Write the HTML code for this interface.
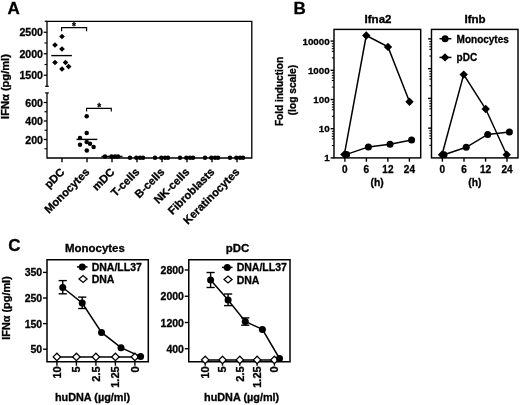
<!DOCTYPE html>
<html><head><meta charset="utf-8"><title>Figure</title>
<style>
html,body{margin:0;padding:0;background:#fff;}
svg{display:block;filter:grayscale(1);}
svg text{font-family:"Liberation Sans",sans-serif;font-weight:bold;fill:#000;stroke:#000;stroke-width:0.3px;}
svg line,svg polyline,svg rect{stroke:#000;}
svg circle,svg polygon{fill:#000;stroke:none;}
svg polygon.o{fill:#fff;stroke:#000;stroke-width:1.3;}
</style></head>
<body>
<svg width="520" height="405" viewBox="0 0 520 405">
<rect x="0" y="0" width="520" height="405" style="fill:#fff;stroke:none"/>
<g id="panelA">
<text x="7.60" y="13.70" font-size="17" text-anchor="start" >A</text>
<polyline points="47.00,86.30 47.00,21.30 251.80,21.30 251.80,158.00 47.00,158.00 47.00,92.90" fill="none" stroke-width="1.32" />
<line x1="44.70" y1="21.30" x2="47.00" y2="21.30" stroke-width="1.21" />
<line x1="45.20" y1="86.30" x2="48.80" y2="86.30" stroke-width="1.26" />
<line x1="45.20" y1="92.90" x2="48.80" y2="92.90" stroke-width="1.26" />
<line x1="43.70" y1="32.25" x2="47.00" y2="32.25" stroke-width="1.26" />
<text x="43.00" y="36.35" font-size="10.6" text-anchor="end" >2500</text>
<line x1="43.70" y1="53.75" x2="47.00" y2="53.75" stroke-width="1.26" />
<text x="43.00" y="57.85" font-size="10.6" text-anchor="end" >2000</text>
<line x1="43.70" y1="75.25" x2="47.00" y2="75.25" stroke-width="1.26" />
<text x="43.00" y="79.35" font-size="10.6" text-anchor="end" >1500</text>
<line x1="44.50" y1="43.00" x2="47.00" y2="43.00" stroke-width="1.15" />
<line x1="44.50" y1="64.50" x2="47.00" y2="64.50" stroke-width="1.15" />
<line x1="43.70" y1="102.50" x2="47.00" y2="102.50" stroke-width="1.26" />
<text x="43.00" y="106.60" font-size="10.6" text-anchor="end" >600</text>
<line x1="43.70" y1="121.00" x2="47.00" y2="121.00" stroke-width="1.26" />
<text x="43.00" y="125.10" font-size="10.6" text-anchor="end" >400</text>
<line x1="43.70" y1="139.50" x2="47.00" y2="139.50" stroke-width="1.26" />
<text x="43.00" y="143.60" font-size="10.6" text-anchor="end" >200</text>
<line x1="44.50" y1="111.75" x2="47.00" y2="111.75" stroke-width="1.15" />
<line x1="44.50" y1="130.25" x2="47.00" y2="130.25" stroke-width="1.15" />
<line x1="44.50" y1="148.75" x2="47.00" y2="148.75" stroke-width="1.15" />
<text transform="translate(8.70 86.50) rotate(-90)" font-size="11.1" text-anchor="middle" >IFN&#945; (pg/ml)</text>
<line x1="62.00" y1="158.00" x2="62.00" y2="162.20" stroke-width="1.38" />
<text transform="translate(65.20 172.70) rotate(-45)" font-size="11.2" text-anchor="end" >pDC</text>
<line x1="87.00" y1="158.00" x2="87.00" y2="162.20" stroke-width="1.38" />
<text transform="translate(90.20 172.70) rotate(-45)" font-size="11.2" text-anchor="end" >Monocytes</text>
<line x1="112.00" y1="158.00" x2="112.00" y2="162.20" stroke-width="1.38" />
<text transform="translate(115.20 172.70) rotate(-45)" font-size="11.2" text-anchor="end" >mDC</text>
<line x1="137.00" y1="158.00" x2="137.00" y2="162.20" stroke-width="1.38" />
<text transform="translate(140.20 172.70) rotate(-45)" font-size="11.2" text-anchor="end" >T-cells</text>
<line x1="162.00" y1="158.00" x2="162.00" y2="162.20" stroke-width="1.38" />
<text transform="translate(165.20 172.70) rotate(-45)" font-size="11.2" text-anchor="end" >B-cells</text>
<line x1="187.00" y1="158.00" x2="187.00" y2="162.20" stroke-width="1.38" />
<text transform="translate(190.20 172.70) rotate(-45)" font-size="11.2" text-anchor="end" >NK-cells</text>
<line x1="212.00" y1="158.00" x2="212.00" y2="162.20" stroke-width="1.38" />
<text transform="translate(215.20 172.70) rotate(-45)" font-size="11.2" text-anchor="end" >Fibroblasts</text>
<line x1="237.00" y1="158.00" x2="237.00" y2="162.20" stroke-width="1.38" />
<text transform="translate(240.20 172.70) rotate(-45)" font-size="11.2" text-anchor="end" >Keratinocytes</text>
<polygon points="59.15,36.50 62.00,33.65 64.85,36.50 62.00,39.35" />
<polygon points="52.15,45.00 55.00,42.15 57.85,45.00 55.00,47.85" />
<polygon points="59.15,49.00 62.00,46.15 64.85,49.00 62.00,51.85" />
<polygon points="52.15,62.50 55.00,59.65 57.85,62.50 55.00,65.35" />
<polygon points="62.65,62.50 65.50,59.65 68.35,62.50 65.50,65.35" />
<polygon points="59.15,69.00 62.00,66.15 64.85,69.00 62.00,71.85" />
<polygon points="65.75,66.60 68.60,63.75 71.45,66.60 68.60,69.45" />
<line x1="51.30" y1="55.60" x2="71.90" y2="55.60" stroke-width="1.38" />
<polyline points="61.60,31.30 61.60,27.60 86.60,27.60 86.60,31.30" fill="none" stroke-width="1.15" />
<text x="74.00" y="29.80" font-size="10" text-anchor="middle" >*</text>
<polyline points="86.60,111.60 86.60,108.40 111.30,108.40 111.30,111.60" fill="none" stroke-width="1.15" />
<text x="99.20" y="110.70" font-size="10" text-anchor="middle" >*</text>
<circle cx="86.70" cy="116.30" r="2.25" />
<circle cx="86.70" cy="132.90" r="2.25" />
<circle cx="80.00" cy="137.90" r="2.25" />
<circle cx="86.70" cy="141.90" r="2.25" />
<circle cx="80.00" cy="144.80" r="2.25" />
<circle cx="90.00" cy="143.80" r="2.25" />
<circle cx="93.60" cy="146.90" r="2.25" />
<circle cx="86.80" cy="150.40" r="2.25" />
<line x1="76.50" y1="139.40" x2="97.30" y2="139.40" stroke-width="1.38" />
<circle cx="105.00" cy="156.40" r="2.25" />
<circle cx="111.50" cy="156.40" r="2.25" />
<circle cx="115.00" cy="156.40" r="2.25" />
<circle cx="118.00" cy="156.40" r="2.25" />
<line x1="101.50" y1="156.40" x2="122.50" y2="156.40" stroke-width="1.38" />
<circle cx="130.00" cy="157.70" r="2.25" />
<circle cx="136.30" cy="157.70" r="2.25" />
<circle cx="140.00" cy="157.70" r="2.25" />
<circle cx="143.00" cy="157.70" r="2.25" />
<circle cx="155.00" cy="157.70" r="2.25" />
<circle cx="161.30" cy="157.70" r="2.25" />
<circle cx="165.00" cy="157.70" r="2.25" />
<circle cx="168.00" cy="157.70" r="2.25" />
<circle cx="180.00" cy="157.70" r="2.25" />
<circle cx="186.30" cy="157.70" r="2.25" />
<circle cx="190.00" cy="157.70" r="2.25" />
<circle cx="193.00" cy="157.70" r="2.25" />
<circle cx="205.00" cy="157.70" r="2.25" />
<circle cx="211.30" cy="157.70" r="2.25" />
<circle cx="215.00" cy="157.70" r="2.25" />
<circle cx="218.00" cy="157.70" r="2.25" />
<circle cx="230.00" cy="157.70" r="2.25" />
<circle cx="236.30" cy="157.70" r="2.25" />
<circle cx="240.00" cy="157.70" r="2.25" />
<circle cx="243.00" cy="157.70" r="2.25" />
</g>
<g id="panelB">
<text x="293.60" y="13.50" font-size="17" text-anchor="start" >B</text>
<rect x="334.0" y="29.4" width="86.70" height="128.50" fill="none" stroke-width="1.45"/>
<line x1="330.60" y1="157.90" x2="334.00" y2="157.90" stroke-width="1.38" />
<text x="329.70" y="161.40" font-size="9.8" text-anchor="end" >1</text>
<line x1="331.80" y1="131.33" x2="334.00" y2="131.33" stroke-width="1.03" />
<line x1="331.80" y1="133.81" x2="334.00" y2="133.81" stroke-width="1.03" />
<line x1="331.80" y1="136.29" x2="334.00" y2="136.29" stroke-width="1.03" />
<line x1="331.80" y1="138.92" x2="334.00" y2="138.92" stroke-width="1.03" />
<line x1="331.80" y1="145.49" x2="334.00" y2="145.49" stroke-width="1.03" />
<line x1="330.60" y1="128.70" x2="334.00" y2="128.70" stroke-width="1.38" />
<text x="329.70" y="132.20" font-size="9.8" text-anchor="end" >10</text>
<line x1="331.80" y1="102.13" x2="334.00" y2="102.13" stroke-width="1.03" />
<line x1="331.80" y1="104.61" x2="334.00" y2="104.61" stroke-width="1.03" />
<line x1="331.80" y1="107.09" x2="334.00" y2="107.09" stroke-width="1.03" />
<line x1="331.80" y1="109.72" x2="334.00" y2="109.72" stroke-width="1.03" />
<line x1="331.80" y1="116.29" x2="334.00" y2="116.29" stroke-width="1.03" />
<line x1="330.60" y1="99.50" x2="334.00" y2="99.50" stroke-width="1.38" />
<text x="329.70" y="103.00" font-size="9.8" text-anchor="end" >100</text>
<line x1="331.80" y1="72.93" x2="334.00" y2="72.93" stroke-width="1.03" />
<line x1="331.80" y1="75.41" x2="334.00" y2="75.41" stroke-width="1.03" />
<line x1="331.80" y1="77.89" x2="334.00" y2="77.89" stroke-width="1.03" />
<line x1="331.80" y1="80.52" x2="334.00" y2="80.52" stroke-width="1.03" />
<line x1="331.80" y1="87.09" x2="334.00" y2="87.09" stroke-width="1.03" />
<line x1="330.60" y1="70.30" x2="334.00" y2="70.30" stroke-width="1.38" />
<text x="329.70" y="73.80" font-size="9.8" text-anchor="end" >1000</text>
<line x1="331.80" y1="43.73" x2="334.00" y2="43.73" stroke-width="1.03" />
<line x1="331.80" y1="46.21" x2="334.00" y2="46.21" stroke-width="1.03" />
<line x1="331.80" y1="48.69" x2="334.00" y2="48.69" stroke-width="1.03" />
<line x1="331.80" y1="51.32" x2="334.00" y2="51.32" stroke-width="1.03" />
<line x1="331.80" y1="57.89" x2="334.00" y2="57.89" stroke-width="1.03" />
<line x1="330.60" y1="41.10" x2="334.00" y2="41.10" stroke-width="1.38" />
<text x="329.70" y="44.60" font-size="9.8" text-anchor="end" >10000</text>
<line x1="344.90" y1="157.90" x2="344.90" y2="161.70" stroke-width="1.38" />
<text x="344.90" y="172.70" font-size="10" text-anchor="middle" >0</text>
<line x1="366.40" y1="157.90" x2="366.40" y2="161.70" stroke-width="1.38" />
<text x="366.40" y="172.70" font-size="10" text-anchor="middle" >6</text>
<line x1="387.90" y1="157.90" x2="387.90" y2="161.70" stroke-width="1.38" />
<text x="387.90" y="172.70" font-size="10" text-anchor="middle" >12</text>
<line x1="409.40" y1="157.90" x2="409.40" y2="161.70" stroke-width="1.38" />
<text x="409.40" y="172.70" font-size="10" text-anchor="middle" >24</text>
<text x="377.20" y="186.20" font-size="10.3" text-anchor="middle" >(h)</text>
<text transform="translate(378.00 22.90) scale(1.07 1)" font-size="10.8" text-anchor="middle" >Ifna2</text>
<polyline points="346.60,154.40 368.40,146.90 390.00,144.20 411.60,140.00" fill="none" stroke-width="1.49" />
<polyline points="344.40,154.40 366.25,35.50 388.00,46.90 409.50,101.80" fill="none" stroke-width="1.49" />
<circle cx="346.60" cy="154.40" r="3.5" />
<circle cx="368.40" cy="146.90" r="3.5" />
<circle cx="390.00" cy="144.20" r="3.5" />
<circle cx="411.60" cy="140.00" r="3.5" />
<polygon points="340.20,154.40 344.40,150.20 348.60,154.40 344.40,158.60" />
<polygon points="362.05,35.50 366.25,31.30 370.45,35.50 366.25,39.70" />
<polygon points="383.80,46.90 388.00,42.70 392.20,46.90 388.00,51.10" />
<polygon points="405.30,101.80 409.50,97.60 413.70,101.80 409.50,106.00" />
<text transform="translate(283.10 91.50) rotate(-90)" font-size="10.05" text-anchor="middle" >Fold induction</text>
<text transform="translate(296.30 90.10) rotate(-90)" font-size="10.2" text-anchor="middle" >(log scale)</text>
<rect x="431.5" y="29.4" width="86.50" height="128.50" fill="none" stroke-width="1.45"/>
<line x1="429.30" y1="130.83" x2="431.50" y2="130.83" stroke-width="1.03" />
<line x1="429.30" y1="133.36" x2="431.50" y2="133.36" stroke-width="1.03" />
<line x1="429.30" y1="135.89" x2="431.50" y2="135.89" stroke-width="1.03" />
<line x1="429.30" y1="138.56" x2="431.50" y2="138.56" stroke-width="1.03" />
<line x1="429.30" y1="145.26" x2="431.50" y2="145.26" stroke-width="1.03" />
<line x1="428.10" y1="128.15" x2="431.50" y2="128.15" stroke-width="1.38" />
<line x1="429.30" y1="101.08" x2="431.50" y2="101.08" stroke-width="1.03" />
<line x1="429.30" y1="103.61" x2="431.50" y2="103.61" stroke-width="1.03" />
<line x1="429.30" y1="106.14" x2="431.50" y2="106.14" stroke-width="1.03" />
<line x1="429.30" y1="108.81" x2="431.50" y2="108.81" stroke-width="1.03" />
<line x1="429.30" y1="115.51" x2="431.50" y2="115.51" stroke-width="1.03" />
<line x1="428.10" y1="98.40" x2="431.50" y2="98.40" stroke-width="1.38" />
<line x1="429.30" y1="71.33" x2="431.50" y2="71.33" stroke-width="1.03" />
<line x1="429.30" y1="73.86" x2="431.50" y2="73.86" stroke-width="1.03" />
<line x1="429.30" y1="76.39" x2="431.50" y2="76.39" stroke-width="1.03" />
<line x1="429.30" y1="79.06" x2="431.50" y2="79.06" stroke-width="1.03" />
<line x1="429.30" y1="85.76" x2="431.50" y2="85.76" stroke-width="1.03" />
<line x1="428.10" y1="68.65" x2="431.50" y2="68.65" stroke-width="1.38" />
<line x1="429.30" y1="41.58" x2="431.50" y2="41.58" stroke-width="1.03" />
<line x1="429.30" y1="44.11" x2="431.50" y2="44.11" stroke-width="1.03" />
<line x1="429.30" y1="46.64" x2="431.50" y2="46.64" stroke-width="1.03" />
<line x1="429.30" y1="49.31" x2="431.50" y2="49.31" stroke-width="1.03" />
<line x1="429.30" y1="56.01" x2="431.50" y2="56.01" stroke-width="1.03" />
<line x1="428.10" y1="38.90" x2="431.50" y2="38.90" stroke-width="1.38" />
<line x1="442.40" y1="157.90" x2="442.40" y2="161.70" stroke-width="1.38" />
<text x="442.40" y="172.70" font-size="10" text-anchor="middle" >0</text>
<line x1="464.00" y1="157.90" x2="464.00" y2="161.70" stroke-width="1.38" />
<text x="464.00" y="172.70" font-size="10" text-anchor="middle" >6</text>
<line x1="485.60" y1="157.90" x2="485.60" y2="161.70" stroke-width="1.38" />
<text x="485.60" y="172.70" font-size="10" text-anchor="middle" >12</text>
<line x1="507.00" y1="157.90" x2="507.00" y2="161.70" stroke-width="1.38" />
<text x="507.00" y="172.70" font-size="10" text-anchor="middle" >24</text>
<text x="474.80" y="186.20" font-size="10.3" text-anchor="middle" >(h)</text>
<text transform="translate(475.00 22.90) scale(1.07 1)" font-size="10.8" text-anchor="middle" >Ifnb</text>
<polyline points="444.00,154.70 466.20,147.30 487.70,134.40 509.40,132.00" fill="none" stroke-width="1.49" />
<polyline points="442.00,154.70 463.70,74.60 485.70,109.00 506.70,154.70" fill="none" stroke-width="1.49" />
<circle cx="444.00" cy="154.70" r="3.5" />
<circle cx="466.20" cy="147.30" r="3.5" />
<circle cx="487.70" cy="134.40" r="3.5" />
<circle cx="509.40" cy="132.00" r="3.5" />
<polygon points="437.80,154.70 442.00,150.50 446.20,154.70 442.00,158.90" />
<polygon points="459.50,74.60 463.70,70.40 467.90,74.60 463.70,78.80" />
<polygon points="481.50,109.00 485.70,104.80 489.90,109.00 485.70,113.20" />
<polygon points="502.50,154.70 506.70,150.50 510.90,154.70 506.70,158.90" />
<line x1="439.50" y1="38.70" x2="451.40" y2="38.70" stroke-width="1.49" />
<circle cx="445.10" cy="38.70" r="3.5" />
<text x="456.60" y="42.60" font-size="10" text-anchor="start" >Monocytes</text>
<line x1="439.50" y1="57.40" x2="451.40" y2="57.40" stroke-width="1.49" />
<polygon points="440.80,57.40 445.00,53.20 449.20,57.40 445.00,61.60" />
<text x="456.60" y="61.20" font-size="10" text-anchor="start" >pDC</text>
</g>
<g id="panelC">
<text x="8.30" y="250.60" font-size="17" text-anchor="start" >C</text>
<rect x="47.0" y="259.75" width="101.30" height="102.00" fill="none" stroke-width="1.5"/>
<line x1="43.00" y1="272.40" x2="47.00" y2="272.40" stroke-width="1.38" />
<text x="42.20" y="276.40" font-size="10.5" text-anchor="end" >350</text>
<line x1="43.00" y1="298.00" x2="47.00" y2="298.00" stroke-width="1.38" />
<text x="42.20" y="302.00" font-size="10.5" text-anchor="end" >250</text>
<line x1="43.00" y1="323.60" x2="47.00" y2="323.60" stroke-width="1.38" />
<text x="42.20" y="327.60" font-size="10.5" text-anchor="end" >150</text>
<line x1="43.00" y1="349.20" x2="47.00" y2="349.20" stroke-width="1.38" />
<text x="42.20" y="353.20" font-size="10.5" text-anchor="end" >50</text>
<text transform="translate(94.90 251.80) scale(1.07 1)" font-size="10.7" text-anchor="middle" >Monocytes</text>
<line x1="56.90" y1="361.75" x2="56.90" y2="365.75" stroke-width="1.38" />
<text transform="translate(60.70 366.20) rotate(-90) scale(1.08 1)" font-size="10.3" text-anchor="end" >10</text>
<line x1="76.40" y1="361.75" x2="76.40" y2="365.75" stroke-width="1.38" />
<text transform="translate(80.20 366.20) rotate(-90) scale(1.08 1)" font-size="10.3" text-anchor="end" >5</text>
<line x1="95.90" y1="361.75" x2="95.90" y2="365.75" stroke-width="1.38" />
<text transform="translate(99.70 366.20) rotate(-90) scale(1.08 1)" font-size="10.3" text-anchor="end" >2.5</text>
<line x1="115.40" y1="361.75" x2="115.40" y2="365.75" stroke-width="1.38" />
<text transform="translate(119.20 366.20) rotate(-90) scale(1.08 1)" font-size="10.3" text-anchor="end" >1.25</text>
<line x1="134.90" y1="361.75" x2="134.90" y2="365.75" stroke-width="1.38" />
<text transform="translate(138.70 366.20) rotate(-90) scale(1.08 1)" font-size="10.3" text-anchor="end" >0</text>
<text transform="translate(92.50 400.60) scale(1.015 1)" font-size="10.7" text-anchor="middle" >huDNA (&#181;g/ml)</text>
<line x1="56.90" y1="356.90" x2="134.90" y2="356.90" stroke-width="1.49" />
<polyline points="62.75,287.50 82.20,303.00 101.50,332.40 121.00,347.70 140.60,356.60" fill="none" stroke-width="1.49" />
<line x1="62.75" y1="280.60" x2="62.75" y2="293.80" stroke-width="1.38" />
<line x1="58.65" y1="280.60" x2="66.85" y2="280.60" stroke-width="1.38" />
<line x1="58.65" y1="293.80" x2="66.85" y2="293.80" stroke-width="1.38" />
<line x1="82.20" y1="297.10" x2="82.20" y2="308.50" stroke-width="1.38" />
<line x1="78.10" y1="297.10" x2="86.30" y2="297.10" stroke-width="1.38" />
<line x1="78.10" y1="308.50" x2="86.30" y2="308.50" stroke-width="1.38" />
<polygon points="53.20,356.90 56.90,353.20 60.60,356.90 56.90,360.60" class="o"/>
<polygon points="72.70,356.90 76.40,353.20 80.10,356.90 76.40,360.60" class="o"/>
<polygon points="92.20,356.90 95.90,353.20 99.60,356.90 95.90,360.60" class="o"/>
<polygon points="111.70,356.90 115.40,353.20 119.10,356.90 115.40,360.60" class="o"/>
<polygon points="131.20,356.90 134.90,353.20 138.60,356.90 134.90,360.60" class="o"/>
<circle cx="62.75" cy="287.50" r="3.5" />
<circle cx="82.20" cy="303.00" r="3.5" />
<circle cx="101.50" cy="332.40" r="3.5" />
<circle cx="121.00" cy="347.70" r="3.5" />
<circle cx="140.60" cy="356.60" r="3.5" />
<line x1="76.95" y1="266.90" x2="87.55" y2="266.90" stroke-width="1.49" />
<circle cx="82.25" cy="266.90" r="3.5" />
<text x="91.65" y="270.70" font-size="10.5" text-anchor="start" >DNA/LL37</text>
<polygon points="79.05,279.00 83.05,275.50 87.05,279.00 83.05,282.50" class="o"/>
<text x="91.65" y="283.10" font-size="10.5" text-anchor="start" >DNA</text>
<rect x="188.75" y="259.75" width="101.25" height="102.00" fill="none" stroke-width="1.5"/>
<line x1="184.75" y1="270.00" x2="188.75" y2="270.00" stroke-width="1.38" />
<text x="183.95" y="274.00" font-size="10.5" text-anchor="end" >2800</text>
<line x1="184.75" y1="296.25" x2="188.75" y2="296.25" stroke-width="1.38" />
<text x="183.95" y="300.25" font-size="10.5" text-anchor="end" >2000</text>
<line x1="184.75" y1="322.50" x2="188.75" y2="322.50" stroke-width="1.38" />
<text x="183.95" y="326.50" font-size="10.5" text-anchor="end" >1200</text>
<line x1="184.75" y1="348.75" x2="188.75" y2="348.75" stroke-width="1.38" />
<text x="183.95" y="352.75" font-size="10.5" text-anchor="end" >400</text>
<text transform="translate(237.50 251.80) scale(1.07 1)" font-size="10.7" text-anchor="middle" >pDC</text>
<line x1="205.20" y1="361.75" x2="205.20" y2="365.75" stroke-width="1.38" />
<text transform="translate(209.00 366.20) rotate(-90) scale(1.08 1)" font-size="10.3" text-anchor="end" >10</text>
<line x1="222.50" y1="361.75" x2="222.50" y2="365.75" stroke-width="1.38" />
<text transform="translate(226.30 366.20) rotate(-90) scale(1.08 1)" font-size="10.3" text-anchor="end" >5</text>
<line x1="239.80" y1="361.75" x2="239.80" y2="365.75" stroke-width="1.38" />
<text transform="translate(243.60 366.20) rotate(-90) scale(1.08 1)" font-size="10.3" text-anchor="end" >2.5</text>
<line x1="257.10" y1="361.75" x2="257.10" y2="365.75" stroke-width="1.38" />
<text transform="translate(260.90 366.20) rotate(-90) scale(1.08 1)" font-size="10.3" text-anchor="end" >1.25</text>
<line x1="274.40" y1="361.75" x2="274.40" y2="365.75" stroke-width="1.38" />
<text transform="translate(278.20 366.20) rotate(-90) scale(1.08 1)" font-size="10.3" text-anchor="end" >0</text>
<text transform="translate(241.60 400.60) scale(1.015 1)" font-size="10.7" text-anchor="middle" >huDNA (&#181;g/ml)</text>
<line x1="205.20" y1="359.90" x2="274.40" y2="359.90" stroke-width="1.49" />
<polyline points="210.60,280.00 228.10,300.00 245.25,321.50 262.40,329.40 279.50,358.50" fill="none" stroke-width="1.49" />
<line x1="210.60" y1="272.50" x2="210.60" y2="287.50" stroke-width="1.38" />
<line x1="206.50" y1="272.50" x2="214.70" y2="272.50" stroke-width="1.38" />
<line x1="206.50" y1="287.50" x2="214.70" y2="287.50" stroke-width="1.38" />
<line x1="228.10" y1="294.00" x2="228.10" y2="305.60" stroke-width="1.38" />
<line x1="224.00" y1="294.00" x2="232.20" y2="294.00" stroke-width="1.38" />
<line x1="224.00" y1="305.60" x2="232.20" y2="305.60" stroke-width="1.38" />
<line x1="245.25" y1="317.90" x2="245.25" y2="325.20" stroke-width="1.38" />
<line x1="241.15" y1="317.90" x2="249.35" y2="317.90" stroke-width="1.38" />
<line x1="241.15" y1="325.20" x2="249.35" y2="325.20" stroke-width="1.38" />
<polygon points="201.50,359.90 205.20,356.20 208.90,359.90 205.20,363.60" class="o"/>
<polygon points="218.80,359.90 222.50,356.20 226.20,359.90 222.50,363.60" class="o"/>
<polygon points="236.10,359.90 239.80,356.20 243.50,359.90 239.80,363.60" class="o"/>
<polygon points="253.40,359.90 257.10,356.20 260.80,359.90 257.10,363.60" class="o"/>
<polygon points="270.70,359.90 274.40,356.20 278.10,359.90 274.40,363.60" class="o"/>
<circle cx="210.60" cy="280.00" r="3.5" />
<circle cx="228.10" cy="300.00" r="3.5" />
<circle cx="245.25" cy="321.50" r="3.5" />
<circle cx="262.40" cy="329.40" r="3.5" />
<circle cx="279.50" cy="358.50" r="3.5" />
<line x1="221.95" y1="267.40" x2="232.55" y2="267.40" stroke-width="1.49" />
<circle cx="227.25" cy="267.40" r="3.5" />
<text x="236.65" y="271.20" font-size="10.5" text-anchor="start" >DNA/LL37</text>
<polygon points="224.05,279.50 228.05,276.00 232.05,279.50 228.05,283.00" class="o"/>
<text x="236.65" y="283.60" font-size="10.5" text-anchor="start" >DNA</text>
<text transform="translate(9.60 308.00) rotate(-90)" font-size="10.9" text-anchor="middle" >IFN&#945; (pg/ml)</text>
</g>
</svg>
</body></html>
